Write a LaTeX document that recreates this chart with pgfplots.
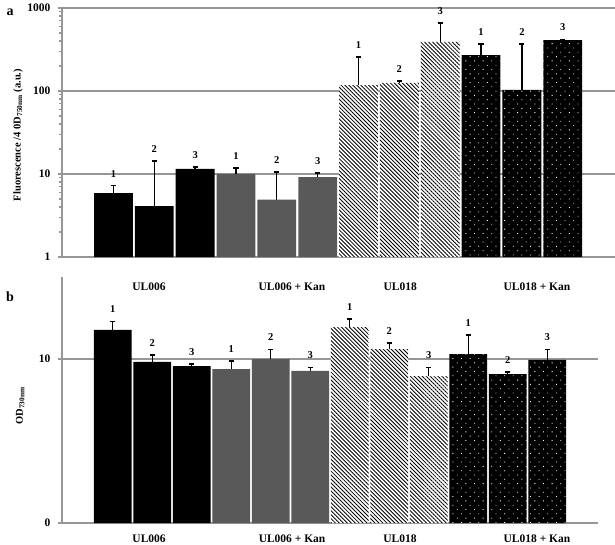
\documentclass[border=0pt]{standalone}
\usepackage{fontspec}
\setmainfont{Liberation Serif}
\usepackage{pgfplots}
\pgfplotsset{compat=1.18}
\usetikzlibrary{patterns.meta}
\definecolor{barGray}{RGB}{89,89,89}
\definecolor{gridGray}{RGB}{150,150,150}

% fluorescence / OD (panel a): x value errplus top label
\pgfplotstableread{
x  y    err   top  lab
1  5.9  1.3   7.2  1
2  4.1  10.2  14.3 2
3  11.5 0.6   12.1 3
4  10.0 1.8   11.8 1
5  4.9  5.7   10.6 2
6  9.2  1.1   10.3 3
7  118  139   257  1
8  125  7     132  2
9  390  270   660  3
10 271  97    368  1
11 103  265   368  2
12 411  9     420  3
}\fluo

% OD730 (panel b)
\pgfplotstableread{
x  y     err   top   lab
1  11.77 0.53  12.30 1
2  9.82  0.42  10.24 2
3  9.57  0.13  9.70  3
4  9.39  0.49  9.88  1
5  10.00 0.60  10.60 2
6  9.27  0.23  9.50  3
7  11.95 0.49  12.44 1
8  10.60 0.38  10.98 2
9  8.96  0.54  9.50  3
10 10.30 1.16  11.46 1
11 9.08  0.12  9.20  2
12 9.94  0.66  10.60 3
}\od

\pgfplotsset{
  panel/.style={
    scale only axis,
    axis x line*=bottom, axis y line*=left,
    axis line style={gridGray, line width=1.2pt, -},
    ymajorgrids, grid style={gridGray, line width=1.2pt},
    xtick style={draw=none},
    ytick style={gridGray, line width=1.2pt},
    tick align=outside, major tick length=4pt,
    bar width=0.95, bar shift=0pt,
    tick label style={font=\bfseries\fontsize{11.5}{13}\selectfont},
    yticklabel style={xshift=-4pt},
    ylabel style={font=\bfseries\fontsize{10.5}{12}\selectfont, anchor=center},
    clip=false,
  },
  barerr/.style={ybar, draw=none,
    error bars/y dir=plus, error bars/y explicit,
    error bars/error bar style={black, line width=1.3pt},
    error bars/error mark options={black, line width=1.3pt, mark size=2.6pt, rotate=90}},
  g1/.style={fill=black, skip coords between index={3}{12}},
  g2/.style={fill=barGray, skip coords between index={0}{3}, skip coords between index={6}{12}},
  g3/.style={fill=white, postaction={pattern={Lines[angle=-45, distance=2.8pt, line width=0.85pt]}, pattern color=black},
    skip coords between index={0}{6}, skip coords between index={9}{12}},
  g4/.style={fill=black, postaction={pattern={Dots[angle=45, distance=6.1pt, radius=0.6pt]}, pattern color=white},
    skip coords between index={0}{9}},
  labs/.style={only marks, mark=none, nodes near coords, point meta=explicit symbolic,
    nodes near coords style={font=\bfseries\fontsize{10.5}{12}\selectfont, anchor=south, yshift=5pt}},
}

\begin{document}
\begin{tikzpicture}
\useasboundingbox (0,0) rectangle (615pt,544pt);

\begin{axis}[panel,
  at={(62pt,287pt)}, anchor=south west,
  width=553pt, height=249pt,
  xmin=-0.26, xmax=13.28,
  ymode=log, ymin=1, ymax=1000,
  ytick={1,10,100,1000}, yticklabels={1,10,100,1000},
  xtick={1.87,5.37,8.02,11.37},
  xticklabels={UL006, UL006 + Kan, UL018, UL018 + Kan},
  xticklabel style={yshift=-18pt},
  ylabel={Fluorescence /4 0D$_{\mathbf{750nm}}$ (a.u.)},
  ylabel style={at={(rel axis cs:-0.0796,0.49)}},
]
\addplot[barerr, g1] table[x=x, y=y, y error=err] {\fluo};
\addplot[barerr, g2] table[x=x, y=y, y error=err] {\fluo};
\addplot[barerr, g3] table[x=x, y=y, y error=err] {\fluo};
\addplot[barerr, g4] table[x=x, y=y, y error=err] {\fluo};
\addplot[labs] table[x=x, y=top, meta=lab] {\fluo};
\end{axis}

\begin{axis}[panel,
  at={(62pt,21pt)}, anchor=south west,
  width=536pt, height=246pt,
  xmin=-0.285, xmax=13.285,
  ymin=0, ymax=15,
  ytick={0,10}, yticklabels={0,10},
  xtick={1.92,5.54,8.27,11.74},
  xticklabels={UL006, UL006 + Kan, UL018, UL018 + Kan},
  xticklabel style={yshift=-4pt},
  ylabel={OD$_{\mathbf{730nm}}$},
  ylabel style={at={(rel axis cs:-0.078,0.476)}},
]
\addplot[barerr, g1] table[x=x, y=y, y error=err] {\od};
\addplot[barerr, g2] table[x=x, y=y, y error=err] {\od};
\addplot[barerr, g3] table[x=x, y=y, y error=err] {\od};
\addplot[barerr, g4] table[x=x, y=y, y error=err] {\od};
\addplot[labs] table[x=x, y=top, meta=lab] {\od};
\end{axis}

\node[font=\bfseries\fontsize{14}{15}\selectfont] at (10pt,532pt) {a};
\node[font=\bfseries\fontsize{14}{15}\selectfont] at (10pt,247pt) {b};
\end{tikzpicture}
\end{document}
